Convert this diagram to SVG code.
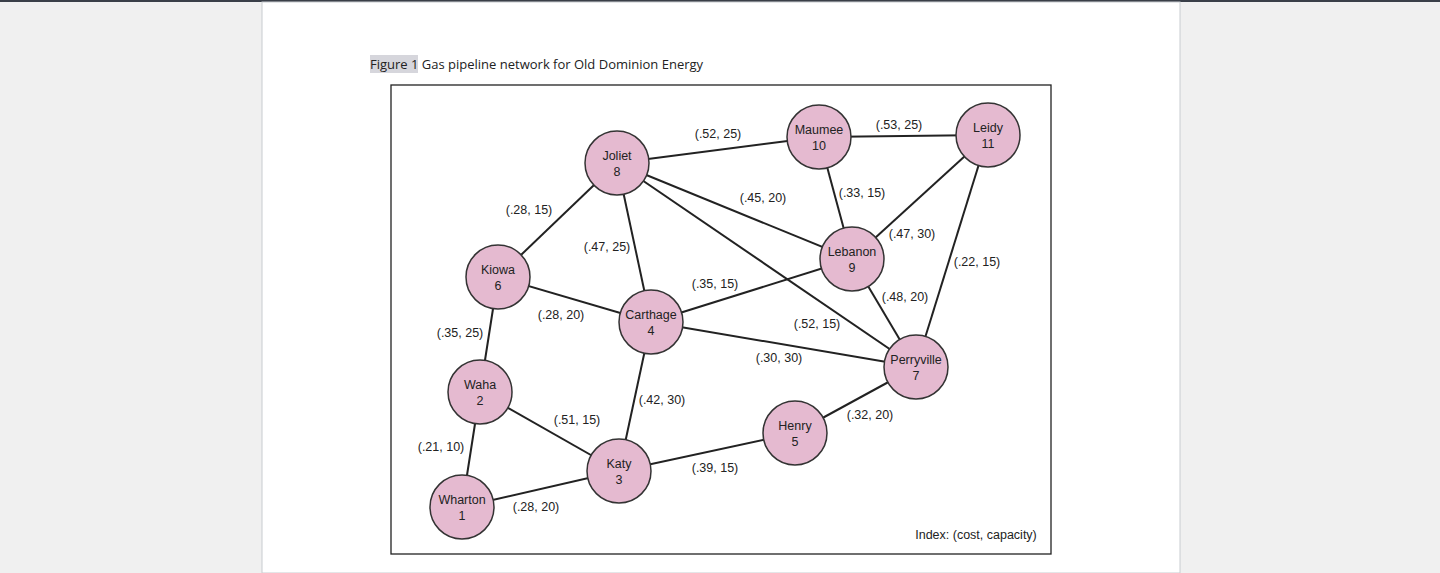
<svg xmlns="http://www.w3.org/2000/svg" width="1440" height="573" viewBox="0 0 1440 573">
<style>
.n circle{fill:#e5bad0;stroke:#333;stroke-width:1.5}
.n text,.l{font-family:"Liberation Sans Narrow","Liberation Sans",Arial,sans-serif;font-size:12.5px;fill:#222}
.n text{text-anchor:middle}
.l{text-anchor:middle}
#edges line{stroke:#222;stroke-width:2}
</style>
<rect width="1440" height="573" fill="#f0f0f0"/>
<rect x="0" y="0" width="1440" height="2" fill="#3a3f48"/>
<rect x="262" y="2" width="918" height="571" fill="#fff" stroke="#c8ccd0" stroke-width="1"/>
<rect x="370" y="55" width="48" height="18" fill="#d6d6dc"/>
<text x="370" y="69" font-family="Open Sans,Liberation Sans,sans-serif" font-size="13" fill="#222">Figure 1 Gas pipeline network for Old Dominion Energy</text>
<rect x="391" y="85" width="660" height="469" fill="#fff" stroke="#222" stroke-width="1.3"/>
<g id="edges">
<line x1="462" y1="507" x2="480" y2="392"/>
<line x1="462" y1="507" x2="619" y2="471"/>
<line x1="480" y1="392" x2="619" y2="471"/>
<line x1="480" y1="392" x2="498" y2="277"/>
<line x1="498" y1="277" x2="651" y2="322"/>
<line x1="498" y1="277" x2="617" y2="163"/>
<line x1="617" y1="163" x2="651" y2="322"/>
<line x1="617" y1="163" x2="819" y2="137"/>
<line x1="617" y1="163" x2="852" y2="259"/>
<line x1="617" y1="163" x2="916" y2="367"/>
<line x1="651" y1="322" x2="852" y2="259"/>
<line x1="651" y1="322" x2="916" y2="367"/>
<line x1="651" y1="322" x2="619" y2="471"/>
<line x1="619" y1="471" x2="795" y2="433"/>
<line x1="795" y1="433" x2="916" y2="367"/>
<line x1="819" y1="137" x2="988" y2="135"/>
<line x1="819" y1="137" x2="852" y2="259"/>
<line x1="852" y1="259" x2="988" y2="135"/>
<line x1="852" y1="259" x2="916" y2="367"/>
<line x1="988" y1="135" x2="916" y2="367"/>
</g>
<g id="labels">
<text class="l" x="718" y="138">(.52, 25)</text>
<text class="l" x="899" y="129">(.53, 25)</text>
<text class="l" x="763" y="202">(.45, 20)</text>
<text class="l" x="862" y="197">(.33, 15)</text>
<text class="l" x="529" y="214">(.28, 15)</text>
<text class="l" x="912" y="238">(.47, 30)</text>
<text class="l" x="607" y="251">(.47, 25)</text>
<text class="l" x="977" y="266">(.22, 15)</text>
<text class="l" x="715" y="288">(.35, 15)</text>
<text class="l" x="905" y="301">(.48, 20)</text>
<text class="l" x="561" y="319">(.28, 20)</text>
<text class="l" x="817" y="328">(.52, 15)</text>
<text class="l" x="460" y="337">(.35, 25)</text>
<text class="l" x="779" y="362">(.30, 30)</text>
<text class="l" x="662" y="404">(.42, 30)</text>
<text class="l" x="870" y="419">(.32, 20)</text>
<text class="l" x="577" y="424">(.51, 15)</text>
<text class="l" x="441" y="451">(.21, 10)</text>
<text class="l" x="715" y="472">(.39, 15)</text>
<text class="l" x="536" y="511">(.28, 20)</text>
<text class="l" x="976" y="539">Index: (cost, capacity)</text>
</g>
<g id="n1" class="n"><circle cx="462" cy="507" r="32"/><text x="462" y="504">Wharton</text><text x="462" y="520">1</text></g>
<g id="n2" class="n"><circle cx="480" cy="392" r="32"/><text x="480" y="389">Waha</text><text x="480" y="405">2</text></g>
<g id="n3" class="n"><circle cx="619" cy="471" r="32"/><text x="619" y="468">Katy</text><text x="619" y="484">3</text></g>
<g id="n4" class="n"><circle cx="651" cy="322" r="32"/><text x="651" y="319">Carthage</text><text x="651" y="335">4</text></g>
<g id="n5" class="n"><circle cx="795" cy="433" r="32"/><text x="795" y="430">Henry</text><text x="795" y="446">5</text></g>
<g id="n6" class="n"><circle cx="498" cy="277" r="32"/><text x="498" y="274">Kiowa</text><text x="498" y="290">6</text></g>
<g id="n7" class="n"><circle cx="916" cy="367" r="32"/><text x="916" y="364">Perryville</text><text x="916" y="380">7</text></g>
<g id="n8" class="n"><circle cx="617" cy="163" r="32"/><text x="617" y="160">Joliet</text><text x="617" y="176">8</text></g>
<g id="n9" class="n"><circle cx="852" cy="259" r="32"/><text x="852" y="256">Lebanon</text><text x="852" y="272">9</text></g>
<g id="n10" class="n"><circle cx="819" cy="137" r="32"/><text x="819" y="134">Maumee</text><text x="819" y="150">10</text></g>
<g id="n11" class="n"><circle cx="988" cy="135" r="32"/><text x="988" y="132">Leidy</text><text x="988" y="148">11</text></g>
</svg>
